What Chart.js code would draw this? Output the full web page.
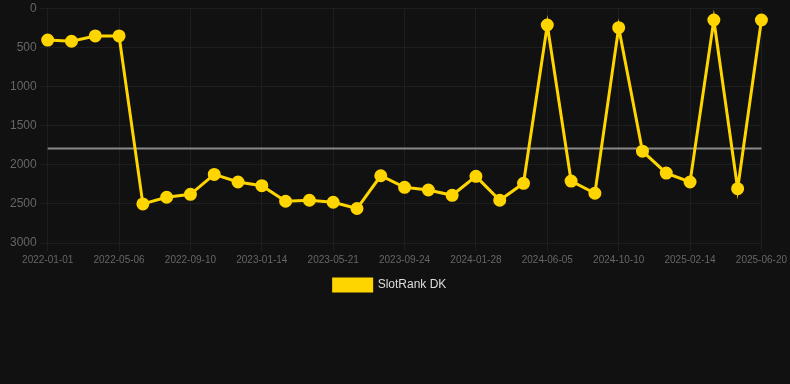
<!DOCTYPE html>
<html>
<head>
<meta charset="utf-8">
<script src="https://cdn.jsdelivr.net/npm/chart.js@4"></script>
<style>
  html, body { margin: 0; padding: 0; background: #111111; }
  #wrap { width: 790px; height: 301px; }
</style>
</head>
<body>
<div id="wrap"><canvas id="rankChart"></canvas></div>
<script>
const dates = ['2022-01-01', '2022-02-12', '2022-03-25', '2022-05-06', '2022-06-17', '2022-07-29',
  '2022-09-10', '2022-10-22', '2022-12-03', '2023-01-14', '2023-02-25', '2023-04-08',
  '2023-05-21', '2023-07-02', '2023-08-13', '2023-09-24', '2023-11-05', '2023-12-17',
  '2024-01-28', '2024-03-10', '2024-04-23', '2024-06-05', '2024-07-17', '2024-08-28',
  '2024-10-10', '2024-11-21', '2025-01-02', '2025-02-14', '2025-03-28', '2025-05-09',
  '2025-06-20'];
const rankDK = [405, 420, 352, 352, 2500, 2415, 2377, 2123, 2220, 2267, 2466, 2453,
  2479, 2559, 2140, 2288, 2322, 2390, 2148, 2453, 2237, 212, 2208, 2364,
  246, 1826, 2106, 2220, 148, 2305, 148];
const averageRank = 1790;

const ctx = document.getElementById('rankChart').getContext('2d');

new Chart(ctx, {
  type: 'line',
  data: {
    labels: dates,
    datasets: [{
      label: 'SlotRank DK',
      data: rankDK,
      borderColor: '#FFD500',
      backgroundColor: '#FFD500',
      pointBackgroundColor: '#FFD500',
      borderWidth: 3,
      pointRadius: 5,
      tension: 0
    }, {
      label: 'avg',
      data: dates.map(() => averageRank),
      borderColor: '#8a8a8a',
      borderWidth: 2,
      pointRadius: 0
    }]
  },
  options: {
    responsive: true,
    maintainAspectRatio: false,
    animation: false,
    layout: { padding: { top: 0, right: 17, left: 7 } },
    scales: {
      x: {
        grid: { color: c => (c.index % 3 === 0 ? '#1e1e1e' : 'transparent') },
        border: { color: '#1e1e1e' },
        ticks: {
          color: '#666',
          font: { family: 'Arial, Liberation Sans', size: 10 },
          maxRotation: 0,
          autoSkip: false,
          callback: function(val, i) { return i % 3 === 0 ? dates[i] : ''; }
        }
      },
      y: {
        reverse: true,
        min: 0,
        max: 3000,
        grid: { color: '#1e1e1e' },
        border: { color: '#1e1e1e' },
        ticks: {
          color: '#666',
          stepSize: 500,
          font: { family: 'Arial, Liberation Sans', size: 12, lineHeight: 0.9 },
          callback: v => String(v)
        }
      }
    },
    plugins: {
      legend: {
        position: 'bottom',
        labels: {
          color: '#ddd',
          boxWidth: 38,
          boxHeight: 12,
          font: { family: 'Arial, Liberation Sans', size: 12 },
          filter: item => item.datasetIndex === 0
        }
      },
      tooltip: { enabled: false }
    }
  }
});
</script>
</body>
</html>
